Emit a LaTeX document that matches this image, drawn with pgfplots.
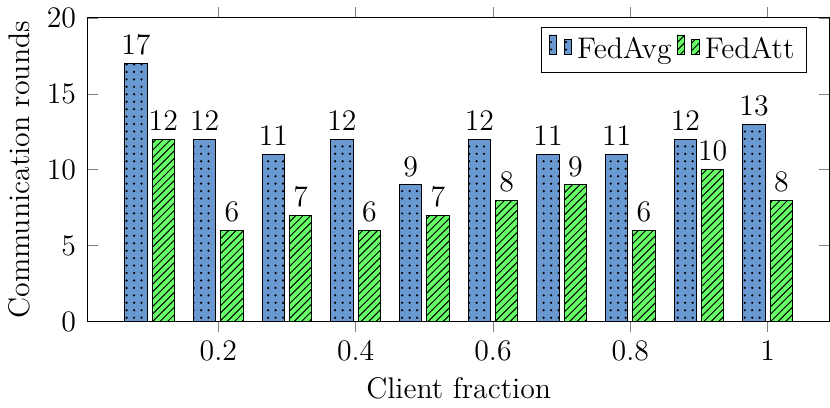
\documentclass[border=0pt]{standalone}
\usepackage{pgfplots}
\pgfplotsset{compat=1.18}
\usetikzlibrary{patterns}
\definecolor{avgblue}{RGB}{106,153,210}
\definecolor{attgreen}{RGB}{102,255,102}
\begin{document}
\begin{tikzpicture}
  \begin{axis}[
      scale only axis,
      width=10.5cm, height=4.3cm,
      ybar=2pt,
      bar width=9pt,
      ymin=0, ymax=20,
      ytick={0,5,10,15,20},
      xtick={0.2,0.4,0.6,0.8,1},
      xtick align=outside,
      tick label style={font=\large},
      yticklabel style={xshift=-1.2pt},
      xlabel={Client fraction},
      xlabel style={font=\large},
      ylabel={Communication rounds},
      ylabel style={font=\large},
      nodes near coords,
      nodes near coords style={font=\large},
      legend columns=2,
      legend pos=north east,
      legend style={font=\large},
    ]
    \addplot[draw=black, fill=avgblue, postaction={pattern=dots}] coordinates {
      (0.1,17) (0.2,12) (0.3,11) (0.4,12) (0.5,9) (0.6,12) (0.7,11) (0.8,11) (0.9,12) (1.0,13)};
    \addlegendentry{FedAvg}
    \addplot[draw=black, fill=attgreen, postaction={pattern=north east lines}] coordinates {
      (0.1,12) (0.2,6) (0.3,7) (0.4,6) (0.5,7) (0.6,8) (0.7,9) (0.8,6) (0.9,10) (1.0,8)};
    \addlegendentry{FedAtt}
  \end{axis}
\end{tikzpicture}
\end{document}
